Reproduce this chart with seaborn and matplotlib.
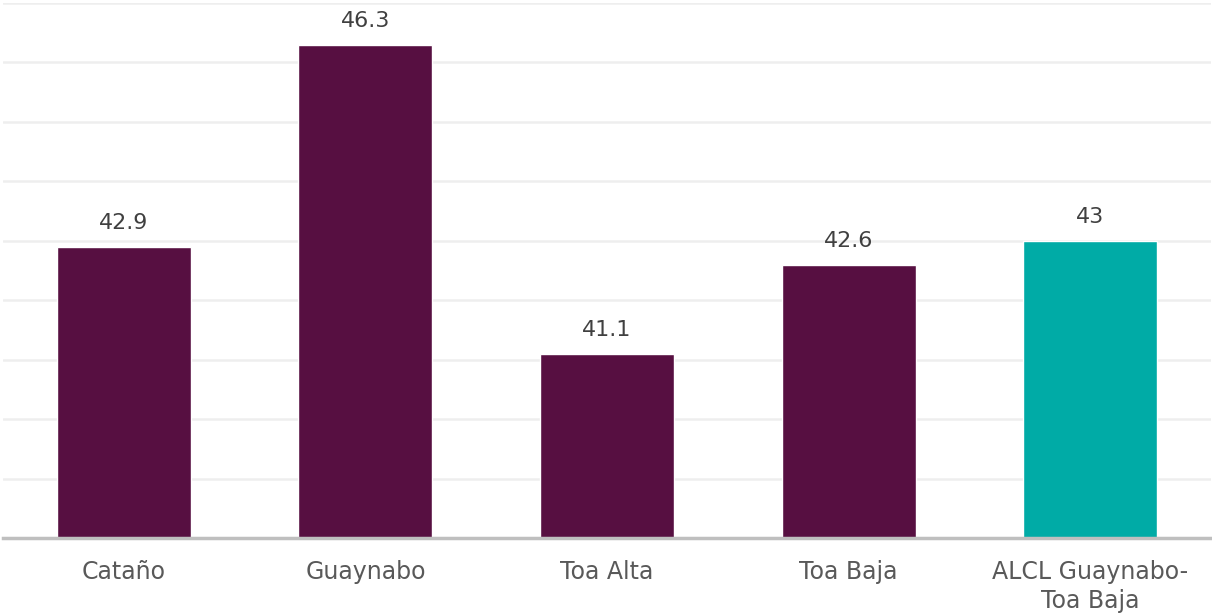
import matplotlib
matplotlib.use("Agg")
import matplotlib.pyplot as plt
import seaborn as sns
import pandas as pd

categories = ["Cataño", "Guaynabo", "Toa Alta", "Toa Baja", "ALCL Guaynabo-\nToa Baja"]
values = [42.9, 46.3, 41.1, 42.6, 43.0]
value_labels = ["42.9", "46.3", "41.1", "42.6", "43"]
bar_colors = ["#570F41", "#570F41", "#570F41", "#570F41", "#00ABA6"]

sns.set_theme(style="white")
plt.rcParams["font.family"] = ["DejaVu Sans"]

df = pd.DataFrame({"region": categories, "value": values})

fig = plt.figure(figsize=(12.12, 6.13), dpi=100)
ax = fig.add_axes([3 / 1212, 75 / 613, 1208 / 1212, 535 / 613])

sns.barplot(data=df, x="region", y="value", hue="region", palette=bar_colors,
            legend=False, width=0.555, ax=ax, saturation=1)

ax.set_ylim(38, 47)
ax.set_yticks(range(38, 48))
ax.yaxis.grid(True, color="#EEEEEE", linewidth=1.8)
ax.set_axisbelow(True)
ax.tick_params(axis="y", left=False, labelleft=False)
ax.tick_params(axis="x", bottom=False, labelsize=17, labelcolor="#595959", pad=10)
for lbl in ax.get_xticklabels():
    lbl.set_linespacing(1.25)
ax.set_xlabel("")
ax.set_ylabel("")
for side in ["top", "left", "right"]:
    ax.spines[side].set_visible(False)
ax.spines["bottom"].set_color("#BFBFBF")
ax.spines["bottom"].set_linewidth(2.5)

for i, (v, t) in enumerate(zip(values, value_labels)):
    ax.annotate(t, (i, v), xytext=(0, 10), textcoords="offset points",
                ha="center", va="bottom", fontsize=16, color="#404040")

fig.savefig("out.png", dpi=100, facecolor="white")
